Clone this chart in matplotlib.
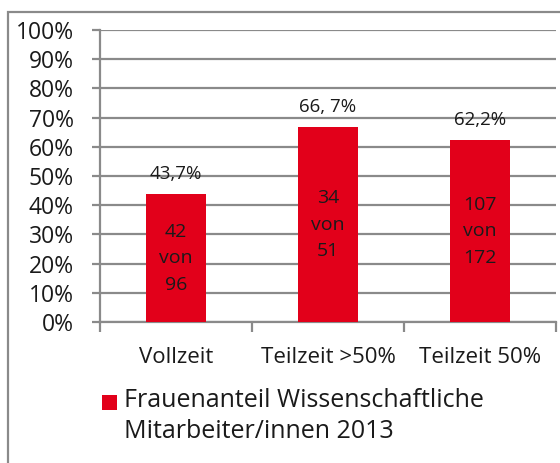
import matplotlib
matplotlib.use("Agg")
import matplotlib.pyplot as plt
from matplotlib.patches import Rectangle
from matplotlib.ticker import FuncFormatter

categories = ["Vollzeit", "Teilzeit >50%", "Teilzeit 50%"]
values = [43.7, 66.7, 62.2]
top_labels = ["43,7%", "66, 7%", "62,2%"]
inner_labels = ["42\nvon\n96", "34\nvon\n51", "107\nvon\n172"]
legend_label = "Frauenanteil Wissenschaftliche\nMitarbeiter/innen 2013"

red = "#E2001A"
grid_c = "#8a8a8a"
plt.rcParams['font.family'] = ['Open Sans', 'DejaVu Sans']

fig = plt.figure(figsize=(5.6, 4.63), dpi=100)
ax = fig.add_axes([100/560, 1-322/463, (556-100)/560, (322-30)/463])

x = list(range(len(categories)))
bars = ax.bar(x, values, width=0.4, color=red, zorder=3, label=legend_label)
ax.set_xlim(-0.5, 2.5)
ax.set_ylim(0, 100)
ax.set_yticks(range(0, 101, 10))
ax.yaxis.set_major_formatter(FuncFormatter(lambda v, p: f"{int(v)}%"))
ax.grid(axis='y', color=grid_c, linewidth=1.6, zorder=0)
ax.set_axisbelow(True)
ax.set_xticks(x)
ax.set_xticklabels(categories)
ax.set_xticks([-0.5, 0.5, 1.5, 2.5], minor=True)
ax.tick_params(axis='x', which='major', length=0, pad=18, labelsize=16, colors='#1a1a1a')
ax.tick_params(axis='x', which='minor', length=7, width=1.6, color=grid_c)
ax.tick_params(axis='y', length=6, width=1.6, color=grid_c, pad=13, labelsize=16.5, labelcolor='#1a1a1a')
for s in ['top', 'right']:
    ax.spines[s].set_visible(False)
for s in ['left', 'bottom']:
    ax.spines[s].set_color(grid_c)
    ax.spines[s].set_linewidth(1.6)

for xi, v, tl, il in zip(x, values, top_labels, inner_labels):
    ax.text(xi, v + 4, tl, ha='center', va='bottom', fontsize=13.5, color='#1a1a1a')
    ax.text(xi, v / 2, il, ha='center', va='center', fontsize=14, color='#1a1a1a', linespacing=1.6)

# legend (drawn manually so the marker sits on the first line)
fig.patches.append(Rectangle((102/560, 1-410/463), 15/560, 15/463, transform=fig.transFigure,
                             facecolor=red, edgecolor='none'))
fig.text(124/560, 1-438/463, legend_label, ha='left', va='baseline', fontsize=18,
         color='#1a1a1a', linespacing=1.3)

fig.patches.append(Rectangle((8/560, -0.2), 1.2, 1.2 - 12/463, transform=fig.transFigure,
                             fill=False, edgecolor=grid_c, linewidth=1.6))
fig.savefig("out.png", dpi=100)
